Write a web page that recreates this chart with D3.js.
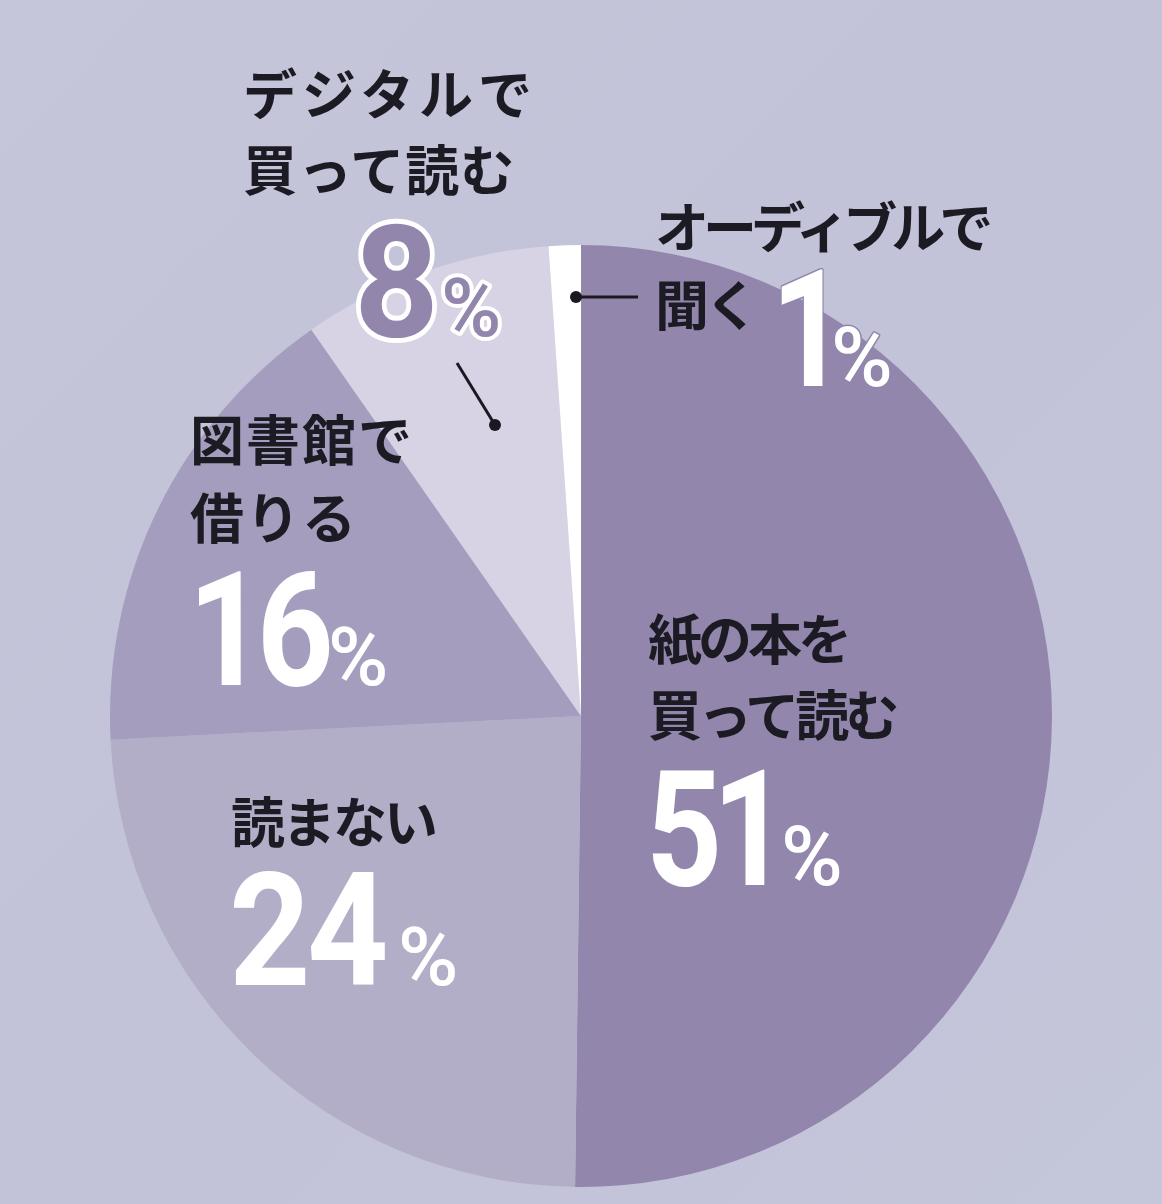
<!DOCTYPE html>
<html>
<head>
<meta charset="utf-8">
<script src="https://cdn.jsdelivr.net/npm/d3@7"></script>
<style>
  html, body { margin: 0; padding: 0; background: #c3c4d9; }
  svg { display: block; }
</style>
</head>
<body>
<svg id="chart" width="1162" height="1204"></svg>
<script>
// ---------- data ----------
const categories = ["紙の本を買って読む", "読まない", "図書館で借りる", "デジタルで買って読む", "オーディブルで聞く"];
const percentLabels = ["51", "24", "16", "8", "1"];
// slice shares as drawn in the picture (angles)
const shares = [50.2, 24.0, 16.1, 8.6, 1.1];
const labelLines = [
  ["紙の本を", "買って読む"],
  ["読まない"],
  ["図書館で", "借りる"],
  ["デジタルで", "買って読む"],
  ["オーディブルで", "聞く"]
];
const sliceColors = ["#9386ad", "#b3aec8", "#a59dbe", "#d7d3e4", "#ffffff"];

// ---------- layout ----------
const W = 1162, H = 1204;
const cx = 581, cy = 716, R = 471;
const jpFont = "'Noto Sans CJK JP', 'Noto Sans CJK SC', sans-serif";
const numFont = "Roboto, 'Liberation Sans', sans-serif";

const textLayout = [
  { x: 648, ys: [636, 712], ls: [-4, -4], nx: 646, ny: 885, size: 162, sx: 0.82, ls2: -12, px: 781, pct: 84, style: "white" },
  { x: 231, ys: [819], ls: [-3], nx: 229, ny: 985, size: 158, sx: 0.9, ls2: -4, px: 398, pct: 82, style: "white" },
  { x: 190, ys: [437, 515], ls: [2, 2], nx: 188, ny: 685, size: 160, sx: 0.84, ls2: -10, px: 328, pct: 82, style: "white" },
  { x: 243, ys: [91, 167], ls: [5, 1], nx: 354, ny: 336, size: 156, sx: 0.95, ls2: 0, px: 441, pct: 82, style: "outlined" },
  { x: 655, ys: [224, 302], ls: [-6, -4], nx: 771, ny: 386, size: 164, sx: 0.8, ls2: 0, px: 831, pct: 84, style: "whiteOutline" }
];

const svg = d3.select("#chart");

// background
const defs = svg.append("defs");
const grad = defs.append("linearGradient").attr("id", "bg")
  .attr("x1", "0").attr("y1", "0").attr("x2", "1").attr("y2", "1");
grad.append("stop").attr("offset", "0%").attr("stop-color", "#c5c6da");
grad.append("stop").attr("offset", "50%").attr("stop-color", "#c2c2d8");
grad.append("stop").attr("offset", "100%").attr("stop-color", "#c4c6da");
svg.append("rect").attr("width", W).attr("height", H).attr("fill", "url(#bg)");

// pie
const pie = d3.pie().sort(null).value(d => d).startAngle(0).endAngle(2 * Math.PI);
const arc = d3.arc().innerRadius(0).outerRadius(R);
const arcs = pie(shares);

const gPie = svg.append("g").attr("transform", `translate(${cx},${cy})`);
gPie.selectAll("path").data(arcs).enter().append("path")
  .attr("d", arc)
  .attr("fill", (d, i) => sliceColors[i]);

// leader lines
const gLead = svg.append("g").attr("stroke", "#1a1820").attr("fill", "#1a1820");
gLead.append("line").attr("x1", 576).attr("y1", 297).attr("x2", 638).attr("y2", 297).attr("stroke-width", 3);
gLead.append("circle").attr("cx", 576).attr("cy", 297).attr("r", 6).attr("stroke", "none");
gLead.append("line").attr("x1", 457).attr("y1", 363).attr("x2", 495).attr("y2", 425).attr("stroke-width", 3);
gLead.append("circle").attr("cx", 495).attr("cy", 425).attr("r", 6).attr("stroke", "none");

// category labels
categories.forEach((cat, i) => {
  const L = textLayout[i];
  labelLines[i].forEach((line, j) => {
    svg.append("text")
      .attr("x", L.x).attr("y", L.ys[j])
      .attr("dominant-baseline", "central")
      .attr("font-family", jpFont)
      .attr("font-weight", 700)
      .attr("font-size", 54)
      .attr("letter-spacing", L.ls[j])
      .attr("fill", "#1c1a22")
      .text(line);
  });
});

// percentage numbers
function styleNum(t, style) {
  if (style === "outlined") {
    t.attr("fill", "#9386ad").attr("stroke", "#ffffff").attr("stroke-width", 10)
     .attr("stroke-linejoin", "round").attr("paint-order", "stroke");
  } else if (style === "whiteOutline") {
    t.attr("fill", "#ffffff").attr("stroke", "#9086ab").attr("stroke-width", 3)
     .attr("stroke-linejoin", "round").attr("paint-order", "stroke");
  } else {
    t.attr("fill", "#ffffff");
  }
}
percentLabels.forEach((p, i) => {
  const L = textLayout[i];
  const g = svg.append("g").attr("transform", `translate(${L.nx},${L.ny}) scale(${L.sx},1)`);
  const t = g.append("text")
    .attr("x", 0).attr("y", 0)
    .attr("font-family", numFont)
    .attr("font-weight", 700)
    .attr("font-size", L.size)
    .attr("letter-spacing", L.ls2)
    .text(p);
  styleNum(t, L.style);
  const tp = svg.append("text")
    .attr("x", L.px).attr("y", L.ny)
    .attr("font-family", numFont)
    .attr("font-weight", 500)
    .attr("font-size", L.pct)
    .text("%");
  styleNum(tp, L.style);
  if (L.style === "outlined") tp.attr("stroke-width", 8);
});
</script>
</body>
</html>
